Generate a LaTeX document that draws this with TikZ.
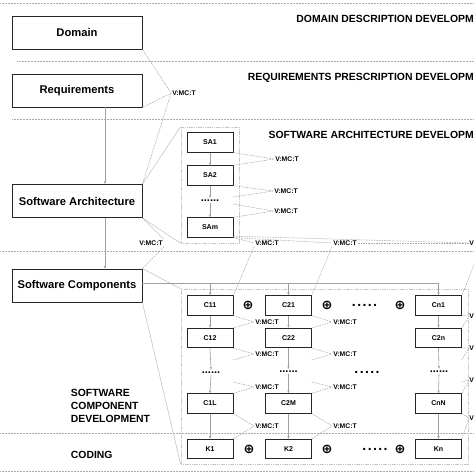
\documentclass[tikz,border=0pt]{standalone}
\usepackage{fontspec}
\setmainfont{Liberation Sans}
\newfontfamily\symfont{DejaVu Sans}
\usetikzlibrary{arrows.meta}
\begin{document}
\begin{tikzpicture}[x=1pt,y=-1pt,
  bigbox/.style={draw=black!85,line width=0.9pt,minimum width=130pt,minimum height=33pt,inner sep=0pt,font=\bfseries\fontsize{11.2}{13}\selectfont},
  smallbox/.style={draw=black!85,line width=0.8pt,minimum width=46pt,minimum height=19.5pt,inner sep=0pt,font=\bfseries\fontsize{7}{8}\selectfont},
  ttl/.style={inner sep=0pt,font=\bfseries\fontsize{10.4}{12}\selectfont},
  vlab/.style={inner sep=1pt,font=\bfseries\fontsize{6.8}{7}\selectfont},
  vedge/.style={inner sep=0pt,anchor=east,font=\bfseries\fontsize{6.8}{7}\selectfont},
  cont/.style={draw=gray!45,line width=0.7pt,dash pattern=on 1.2pt off 0.6pt,inner sep=0pt},
  sepline/.style={draw=gray!65,line width=0.6pt,dash pattern=on 0.6pt off 0.9pt},
  arr/.style={draw=gray!75,line width=0.6pt,-{Stealth[length=3pt,width=2.4pt]}},
  vl/.style={draw=gray!70,line width=0.5pt,dash pattern=on 1.6pt off 1pt},
  link/.style={draw=gray!45,line width=0.6pt},
  oplusx/.style={inner sep=0pt,font=\symfont\bfseries\fontsize{13}{13}\selectfont},
  hdotsx/.style={inner sep=0pt,anchor=base,font=\bfseries\fontsize{14}{14}\selectfont\addfontfeature{LetterSpace=10}},
  vdotsx/.style={inner sep=0pt,anchor=base,font=\bfseries\fontsize{11}{11}\selectfont},
]
\useasboundingbox (0,0) rectangle (474,474);
\clip (0,0) rectangle (474,474);
\fill[white] (0,0) rectangle (474,474);

% separators
\draw[sepline] (0,3) -- (474,3);
\draw[sepline] (17,61) -- (474,61);
\draw[sepline] (12,119) -- (474,119);
\draw[sepline] (0,251) -- (474,251);
\draw[sepline] (0,433) -- (474,433);
\draw[sepline] (0,471) -- (474,471);

% titles
\node[ttl,anchor=base east] (t1) at (474,22) {DOMAIN DESCRIPTION DEVELOPM};
\node[ttl,anchor=base east] (t2) at (474,80) {REQUIREMENTS PRESCRIPTION DEVELOPM};
\node[ttl,anchor=base east] (t3) at (474,138.5) {SOFTWARE ARCHITECTURE DEVELOPM};
\node[ttl,anchor=base west] (s1) at (70.7,396.3) {SOFTWARE};
\node[ttl,anchor=base west] (s2) at (70.7,409.3) {COMPONENT};
\node[ttl,anchor=base west] (s3) at (70.7,422.3) {DEVELOPMENT};
\node[ttl,anchor=base west] (s4) at (70.7,458.3) {CODING};

% containers
\node[cont,minimum width=58pt,minimum height=116pt] (sacont) at (210,185) {};
\node[cont,minimum width=287pt,minimum height=175pt] (ccont) at (324.5,376.5) {};

% big boxes
\node[bigbox] (dom) at (77,32.5) {Domain};
\node[bigbox] (req) at (77,90.5) {Requirements};
\node[bigbox] (sa) at (77,201) {Software Architecture};
\node[bigbox] (sc) at (77,285.5) {Software Components};

% SA boxes
\node[smallbox] (sa1) at (210,142.5) {SA1};
\node[smallbox] (sa2) at (210,175.5) {SA2};
\node[vdotsx] (sad) at (210,201.8) {......};
\node[smallbox] (sam) at (210,227.5) {SAm};

% component columns
\node[smallbox] (c11) at (210,305.5) {C11};
\node[smallbox] (c12) at (210,338) {C12};
\node[vdotsx] (c1d) at (211,373.8) {......};
\node[smallbox] (c1l) at (210,403.5) {C1L};
\node[smallbox] (k1) at (210,449) {K1};

\node[smallbox] (c21) at (288.5,305.5) {C21};
\node[smallbox] (c22) at (288.5,338) {C22};
\node[vdotsx] (c2d) at (288.5,372.8) {......};
\node[smallbox] (c2m) at (288.5,403.5) {C2M};
\node[smallbox] (k2) at (288.5,449) {K2};

\node[smallbox] (cn1) at (438.5,305.5) {Cn1};
\node[smallbox] (c2n) at (438.5,338) {C2n};
\node[vdotsx] (cnd) at (439,372.8) {......};
\node[smallbox] (cnn) at (438.5,403.5) {CnN};
\node[smallbox] (kn) at (438.5,449) {Kn};

% oplus and dots
\node[oplusx] (op1) at (248,305) {⊕};
\node[oplusx] (op2) at (327,305) {⊕};
\node[hdotsx] (hd1) at (364.5,306) {.....};
\node[oplusx] (op3) at (400,305) {⊕};
\node[hdotsx] (hd2) at (367,373) {.....};
\node[oplusx] (op4) at (249,449) {⊕};
\node[oplusx] (op5) at (327,449) {⊕};
\node[hdotsx] (hd3) at (375,450) {.....};
\node[oplusx] (op6) at (400,449) {⊕};

% labels
\node[vlab] (l0) at (184,93) {V:MC:T};
\node[vlab] (lsa) at (151,243) {V:MC:T};
\node[vlab] (lsa1) at (287,159) {V:MC:T};
\node[vlab] (lsa2) at (286,191) {V:MC:T};
\node[vlab] (lsa3) at (286,211) {V:MC:T};
\node[vlab] (la) at (267,243) {V:MC:T};
\node[vlab] (lb) at (345,243) {V:MC:T};
\node[vedge] (lc) at (474,243) {V};
\node[vlab] (m11) at (267,322) {V:MC:T};
\node[vlab] (m12) at (267,354) {V:MC:T};
\node[vlab] (m13) at (267,387) {V:MC:T};
\node[vlab] (m14) at (267,426) {V:MC:T};
\node[vlab] (m21) at (345,322) {V:MC:T};
\node[vlab] (m22) at (345,354) {V:MC:T};
\node[vlab] (m23) at (345,387) {V:MC:T};
\node[vlab] (m24) at (345,426) {V:MC:T};
\node[vedge] (m31) at (474,316) {V};
\node[vedge] (m32) at (474,348) {V};
\node[vedge] (m33) at (474,380) {V};
\node[vedge] (m34) at (474,418) {V};

% free-end coordinates
\coordinate (sadA) at (233,197);
\coordinate (sadB) at (233,204);
\coordinate (c1dA) at (233,360);
\coordinate (c1dB) at (233,382);
\coordinate (c2dA) at (311.5,360);
\coordinate (c2dB) at (311.5,382);
\coordinate (cndA) at (461.5,360);
\coordinate (cndB) at (461.5,382);
\coordinate (lcout) at (481,247);

% container links
\draw[link] (sa.north east) -- (sacont.north west);
\draw[link] (sa.south east) -- (sacont.south west);
\draw[link] (sc.north east) -- (ccont.north west);
\draw[link] (sc.south east) -- (ccont.south west);

% solid arrows
\draw[arr] ([xshift=28pt]req.south) -- ([xshift=28pt]sa.north);
\draw[arr] ([xshift=28pt]sa.south) -- ([xshift=28pt]sc.north);
\draw[arr] (sa1) -- (sa2);
\draw[arr] (sa2.south) -- ([yshift=4pt]sad.base);
\draw[arr] ([yshift=-1pt]sad.base) -- (sam.north);
\coordinate (sch) at ([yshift=2.5pt]sc.east);
\draw[arr] (sch) -| (cn1.north);
\draw[arr] (sch -| c11.north) -- (c11.north);
\draw[arr] (sch -| c21.north) -- (c21.north);
\foreach \a/\b/\d/\l/\k in {c11/c12/c1d/c1l/k1, c21/c22/c2d/c2m/k2, cn1/c2n/cnd/cnn/kn}{
  \draw[arr] (\a) -- (\b);
  \draw[arr] (\b.south) -- ([yshift=4pt]\d.base);
  \draw[arr] ([yshift=-1pt]\d.base) -- (\l.north);
  \draw[arr] (\l) -- (\k);
}

% dashed V:MC:T connectors
\draw[vl] (dom.south east) -- (l0.west);
\draw[vl] (req.south east) -- (l0.west);
\draw[vl] (l0.west) -- (sa.north east);
\draw[vl] (sa.south east) -- (lsa.north east);
\draw[vl] (lsa.south east) -- (sc.north east);
\draw[vl] (sa1.south east) -- (lsa1.west);
\draw[vl] (sa2.north east) -- (lsa1.west);
\draw[vl] (sa2.south east) -- (lsa2.west);
\draw[vl] (sadA) -- (lsa2.west);
\draw[vl] (sadB) -- (lsa3.west);
\draw[vl] (sam.north east) -- (lsa3.west);
\draw[vl] (sam.south east) -- (la.west);
\draw[vl] (sam.south east) -- (lb.west);
\draw[vl] ([yshift=1.5pt]sam.south east) -- (lc.west);
\draw[vl] (lb.east) -- (lc.west);
\draw[vl] (la.south west) -- (c11.north east);
\draw[vl] (lb.south west) -- (c21.north east);
\draw[vl] (lcout) -- (cn1.north east);

\foreach \a/\b/\l/\k/\dA/\dB/\ma/\mb/\mc/\md in {
  c11/c12/c1l/k1/c1dA/c1dB/m11/m12/m13/m14,
  c21/c22/c2m/k2/c2dA/c2dB/m21/m22/m23/m24,
  cn1/c2n/cnn/kn/cndA/cndB/m31/m32/m33/m34}{
  \draw[vl] (\a.south east) -- (\ma.west);
  \draw[vl] (\b.north east) -- (\ma.west);
  \draw[vl] (\b.south east) -- (\mb.west);
  \draw[vl] (\dA) -- (\mb.west);
  \draw[vl] (\dB) -- (\mc.west);
  \draw[vl] (\l.north east) -- (\mc.west);
  \draw[vl] (\l.south east) -- (\md.west);
  \draw[vl] (\k.north east) -- (\md.west);
}
\end{tikzpicture}
\end{document}
